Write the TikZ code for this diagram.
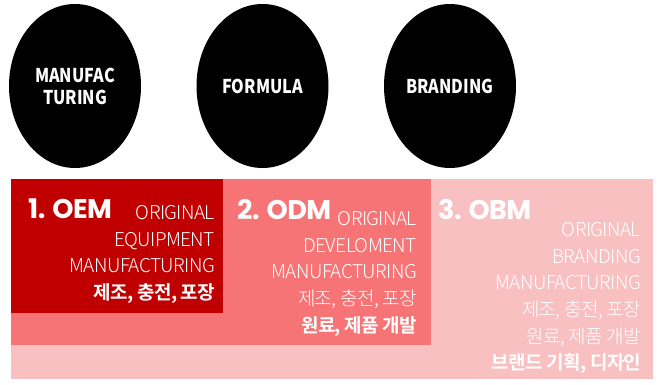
\documentclass[tikz,border=0pt]{standalone}
\usepackage{fontspec}
\usepackage{xcolor}
\usetikzlibrary{shapes.geometric}
\newfontfamily\kofont{Noto Sans CJK KR}[FakeStretch=0.85]
\newfontfamily\kolight{Noto Sans CJK KR}[UprightFont=* Light, BoldFont=* Bold, LetterSpace=-3]
\newfontfamily\numfont{Poppins}[LetterSpace=-2]
\definecolor{darkred}{HTML}{C00000}
\definecolor{salmon}{HTML}{F77476}
\definecolor{lightpink}{HTML}{F9C0C2}

\begin{document}
\begin{tikzpicture}[x=1pt,y=-1pt,node distance=187.5pt,main node/.style={ellipse,fill=black,minimum width=132,minimum height=164,inner sep=0,text=white,align=center,font=\kofont\bfseries\fontsize{19}{22}\selectfont},box/.style={rectangle,anchor=north west,inner sep=0},title/.style={anchor=north west,inner sep=0,text=white,font=\numfont\bfseries\fontsize{27}{27}\selectfont},desc/.style={anchor=north east,inner sep=0,align=right,text=white,font=\kolight\fontsize{19}{26.7}\selectfont}]
            \useasboundingbox (0,0) rectangle (661,384);
            \node[main node] (1) at (75,86) {MANUFAC\\TURING};
            \node[main node] (2) [right of = 1]{FORMULA};
            \node[main node] (3) [right of = 2]{BRANDING};

            \node[box, fill=lightpink, minimum width=642, minimum height=200] (4) at (11,179) {};
            \node[box, fill=salmon, minimum width=420, minimum height=166] (5) at (11,179) {};
            \node[box, fill=darkred, minimum width=212, minimum height=134] (6) at (11,179) {};

            \node[title] (7) at (28,199) {1. OEM};
            \node[title] (8) at (237,199) {2. ODM};
            \node[title] (9) at (438,199) {3. OBM};

            \node[desc] (10) at (215,205) {ORIGINAL\\EQUIPMENT\\MANUFACTURING\\\textbf{제조, 충전, 포장}};
            \node[desc] (11) at (417,211) {ORIGINAL\\DEVELOMENT\\MANUFACTURING\\제조, 충전, 포장\\\textbf{원료, 제품 개발}};
            \node[desc] (12) at (641,222) {ORIGINAL\\BRANDING\\MANUFACTURING\\제조, 충전, 포장\\원료, 제품 개발\\\textbf{브랜드 기획, 디자인}};
        \end{tikzpicture}
\end{document}
